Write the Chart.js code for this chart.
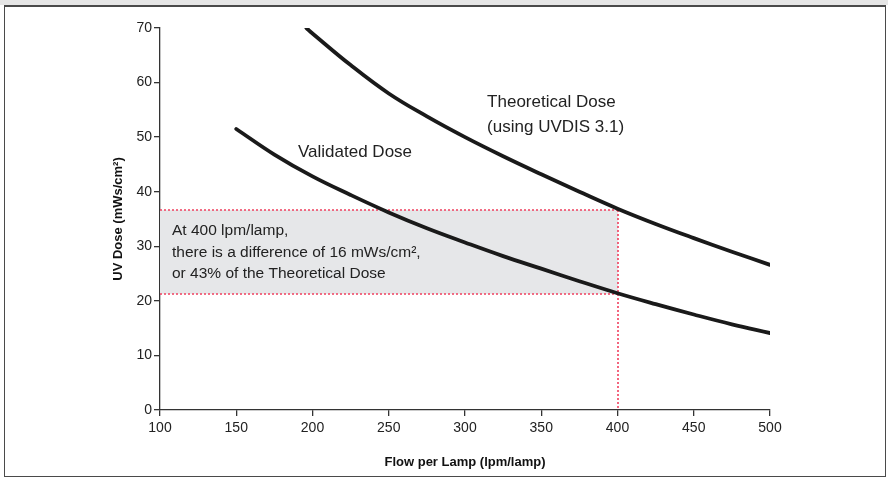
<!DOCTYPE html>
<html>
<head>
<meta charset="utf-8">
<script src="https://cdn.jsdelivr.net/npm/chart.js@4"></script>
<style>
  html, body { margin: 0; padding: 0; background: #fff; }
  #wrap { position: relative; width: 888px; height: 478px; overflow: hidden; }
  #band { position: absolute; left: 0; top: 0; width: 888px; height: 5px; background: #e6e6e6; }
  #frame { position: absolute; left: 4px; top: 5px; width: 880px; height: 469px; border: 1.5px solid #4a4a4a; border-top-width: 2px; }
  canvas { position: absolute; left: 0; top: 0; }
</style>
</head>
<body>
<div id="wrap">
  <div id="band"></div>
  <div id="frame"></div>
  <canvas id="myChart" width="888" height="478"></canvas>
</div>
<script>
// flow per lamp (lpm/lamp) and dose (mWs/cm2)
var theoFlow = [196, 200, 225, 250, 275, 300, 325, 350, 375, 400, 425, 450, 475, 500];
var theoDose = [70.0, 69.0, 63.2, 58.0, 53.8, 50.0, 46.5, 43.2, 40.0, 36.9, 34.1, 31.5, 29.0, 26.6];
var valFlow = [150, 175, 200, 225, 250, 275, 300, 325, 350, 375, 400, 425, 450, 475, 500];
var valDose = [51.5, 46.8, 42.8, 39.4, 36.2, 33.3, 30.7, 28.2, 25.9, 23.6, 21.4, 19.4, 17.5, 15.7, 14.1];

var xTicks = [100, 150, 200, 250, 300, 350, 400, 450, 500];
var yTicks = [0, 10, 20, 30, 40, 50, 60, 70];

// shaded comparison at 400 lpm/lamp
var markFlow = 400;
var markTheo = 36.7;
var markVal = 21.3;

var boxText = ["At 400 lpm/lamp,", "there is a difference of 16 mWs/cm\u00b2,", "or 43% of the Theoretical Dose"];

var font = "'Liberation Sans', Arial, Helvetica, sans-serif";

function pts(xs, ys) {
    return xs.map(function (x, i) { return { x: x, y: ys[i] }; });
}

const annotations = {
    id: 'annotations',
    beforeDatasetsDraw: function (chart) {
        var c = chart.ctx, xs = chart.scales.x, ys = chart.scales.y;
        var x0 = xs.getPixelForValue(100), x1 = Math.round(xs.getPixelForValue(markFlow));
        var yT = Math.round(ys.getPixelForValue(markTheo)), yV = Math.round(ys.getPixelForValue(markVal));
        var y0 = ys.getPixelForValue(0);
        c.save();
        c.fillStyle = '#e6e7e9';
        c.fillRect(x0, yT, x1 - x0, yV - yT);
        c.strokeStyle = '#f0405f';
        c.lineWidth = 1.6;
        c.setLineDash([2, 2]);
        c.beginPath();
        c.moveTo(x0, yT); c.lineTo(x1, yT);
        c.moveTo(x0, yV); c.lineTo(x1, yV);
        c.moveTo(x1, yT); c.lineTo(x1, y0);
        c.stroke();
        c.setLineDash([]);
        c.fillStyle = '#222';
        c.font = '15.5px ' + font;
        c.textBaseline = 'middle';
        boxText.forEach(function (t, i) {
            c.fillText(t, x0 + 12, yT + 21 + i * 21.5);
        });
        c.font = '17px ' + font;
        c.fillText('Validated Dose', xs.getPixelForValue(190.5), ys.getPixelForValue(47.3));
        c.fillText('Theoretical Dose', xs.getPixelForValue(314.5), ys.getPixelForValue(56.4));
        c.fillText('(using UVDIS 3.1)', xs.getPixelForValue(314.5), ys.getPixelForValue(51.8));
        c.restore();
    }
};

const ctx = document.getElementById('myChart');
new Chart(ctx, {
    type: 'scatter',
    data: {
        datasets: [
            {
                label: 'Theoretical Dose',
                data: pts(theoFlow, theoDose),
                showLine: true,
                borderColor: '#1a1a1a',
                borderWidth: 3.8,
                borderCapStyle: 'round',
                tension: 0.4,
                pointRadius: 0
            },
            {
                label: 'Validated Dose',
                data: pts(valFlow, valDose),
                showLine: true,
                borderColor: '#1a1a1a',
                borderWidth: 3.8,
                borderCapStyle: 'round',
                tension: 0.4,
                pointRadius: 0
            }
        ]
    },
    options: {
        responsive: false,
        animation: false,
        layout: { padding: { left: 111, top: 28, right: 118, bottom: 8 } },
        plugins: {
            legend: { display: false },
            tooltip: { enabled: false }
        },
        scales: {
            x: {
                type: 'linear',
                min: 100,
                max: 500,
                afterBuildTicks: function (s) { s.ticks = xTicks.map(function (v) { return { value: v }; }); },
                afterFit: function (s) { s.height = 60; },
                border: { display: true, color: '#333', width: 1.3 },
                grid: { display: true, drawOnChartArea: false, drawTicks: true, tickLength: 6, color: '#333', lineWidth: 1.3 },
                ticks: { color: '#222', font: { family: font, size: 14 }, padding: 4, maxRotation: 0 },
                title: { display: true, text: 'Flow per Lamp (lpm/lamp)', color: '#111', font: { family: font, size: 13, weight: 'bold' }, padding: { top: 8, bottom: 0 } }
            },
            y: {
                min: 0,
                max: 70,
                afterBuildTicks: function (s) { s.ticks = yTicks.map(function (v) { return { value: v }; }); },
                afterFit: function (s) { s.width = 49; },
                border: { display: true, color: '#333', width: 1.3 },
                grid: { display: true, drawOnChartArea: false, drawTicks: true, tickLength: 6, color: '#333', lineWidth: 1.3 },
                ticks: { color: '#222', font: { family: font, size: 14 }, padding: 2 },
                title: { display: true, text: 'UV Dose (mWs/cm\u00b2)', color: '#111', font: { family: font, size: 13, weight: 'bold' }, padding: { top: 0, bottom: 0 } }
            }
        }
    },
    plugins: [annotations]
});
</script>
</body>
</html>
